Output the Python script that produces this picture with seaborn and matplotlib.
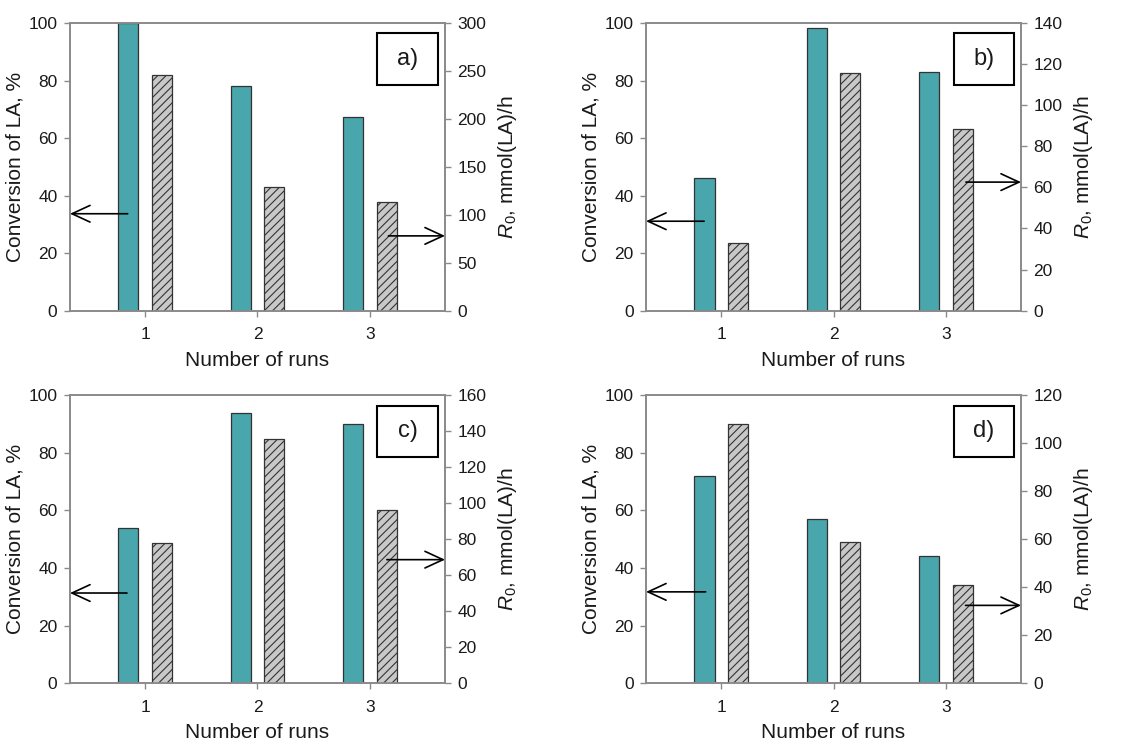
import pandas as pd
import matplotlib
matplotlib.use("Agg")
import matplotlib.pyplot as plt
from matplotlib.patches import Rectangle
from matplotlib.ticker import MultipleLocator
import seaborn as sns

# values
runs = ["1", "2", "3"]
panels = ["a)", "b)", "c)", "d)"]
conv = {"a)": [100, 78, 67.5], "b)": [46, 98.4, 83],
        "c)": [54, 94, 90], "d)": [72, 57, 44]}
rate = {"a)": [246, 129.5, 113], "b)": [33, 115.5, 88.5],
        "c)": [78, 135.5, 96], "d)": [108, 59, 41]}
rate_max = {"a)": 300, "b)": 140, "c)": 160, "d)": 120}
rate_step = {"a)": 50, "b)": 20, "c)": 20, "d)": 20}
# arrows: (start x frac, y in % axis)
left_arrow = {"a)": (0.154, 33.7), "b)": (0.155, 31.1), "c)": (0.152, 31.3), "d)": (0.159, 31.7)}
right_arrow = {"a)": (0.849, 26), "b)": (0.853, 44.7), "c)": (0.845, 42.9), "d)": (0.852, 27)}

sns.set_theme(style="white")
plt.rcParams['font.family'] = ['Liberation Sans', 'DejaVu Sans']
plt.rcParams['mathtext.fontset'] = 'custom'
plt.rcParams['mathtext.rm'] = 'Liberation Sans'
plt.rcParams['mathtext.it'] = 'Liberation Sans:italic'
plt.rcParams['hatch.linewidth'] = 0.8

teal = "#48a6ac"
grey = "#c8c8c8"
edge = "#333333"
spine = "#8a8a8a"
txt = "#1a1a1a"
pal = {"conv": teal, "rate": grey}

fig, axes = plt.subplots(2, 2, figsize=(11.36, 7.45), dpi=100)
fig.subplots_adjust(left=0.0616, right=0.8988, top=0.969, bottom=0.0832,
                    wspace=0.536, hspace=0.295)

for ax, p in zip(axes.flat, panels):
    df = pd.DataFrame({"run": runs * 2,
                       "series": ["conv"] * 3 + ["rate"] * 3,
                       "value": conv[p] + rate[p]})
    ax2 = ax.twinx()
    # draw both series on each axis so seaborn dodges them, then keep only
    # the series that belongs to that axis
    for a, keep in ((ax, "conv"), (ax2, "rate")):
        sns.barplot(data=df, x="run", y="value", hue="series", order=runs,
                    hue_order=["conv", "rate"], palette=pal, saturation=1,
                    width=0.6, gap=0.4, errorbar=None, legend=False,
                    edgecolor=edge, linewidth=0.9, ax=a)
        keep_col = matplotlib.colors.to_rgba(pal[keep])
        for bar in list(a.patches):
            if not all(abs(u - v) < 1e-3 for u, v in zip(bar.get_facecolor(), keep_col)):
                bar.remove()
    for bar in ax2.patches:
        bar.set_hatch("////")

    ax.set_xlim(-0.67, 2.67)
    ax.set_ylim(0, 100)
    ax.yaxis.set_major_locator(MultipleLocator(20))
    ax2.set_ylim(0, rate_max[p])
    ax2.yaxis.set_major_locator(MultipleLocator(rate_step[p]))

    ax.set_xlabel("Number of runs", fontsize=15, color=txt, labelpad=6)
    ax.set_ylabel("Conversion of LA, %", fontsize=15, color=txt, labelpad=3)
    ax2.set_ylabel(r"$R_0$, mmol(LA)/h", fontsize=15, color=txt, labelpad=7)

    ax.tick_params(axis="y", left=True, direction="out", length=4, width=1,
                   color=spine, labelsize=12.5, labelcolor=txt, pad=5)
    ax.tick_params(axis="x", bottom=True, direction="out", length=4, width=1,
                   color=spine, labelsize=12.5, labelcolor=txt, pad=8)
    ax2.tick_params(axis="y", right=True, left=False, direction="out", length=4, width=1,
                    color=spine, labelsize=12.5, labelcolor=txt, pad=5)
    for a in (ax, ax2):
        for s in a.spines.values():
            s.set_color(spine)
            s.set_linewidth(1.2)

    # arrows pointing to the axis each series belongs to
    arrow = dict(arrowstyle="->,head_length=0.65,head_width=0.3",
                 color="black", lw=1.2, mutation_scale=20, shrinkA=0, shrinkB=0)
    x0, y0 = left_arrow[p]
    ax2.annotate("", xy=(0.0, y0 / 100), xytext=(x0, y0 / 100),
                 xycoords="axes fraction", arrowprops=arrow)
    x0, y0 = right_arrow[p]
    ax2.annotate("", xy=(1.0, y0 / 100), xytext=(x0, y0 / 100),
                 xycoords="axes fraction", arrowprops=arrow)

    # panel label box
    ax2.add_patch(Rectangle((0.82, 0.785), 0.162, 0.18, transform=ax2.transAxes,
                            facecolor="white", edgecolor="black", lw=1.5, zorder=5))
    ax2.text(0.901, 0.875, p, transform=ax2.transAxes, ha="center", va="center",
             fontsize=17, color=txt, zorder=6)

fig.savefig("out.png", dpi=100)
